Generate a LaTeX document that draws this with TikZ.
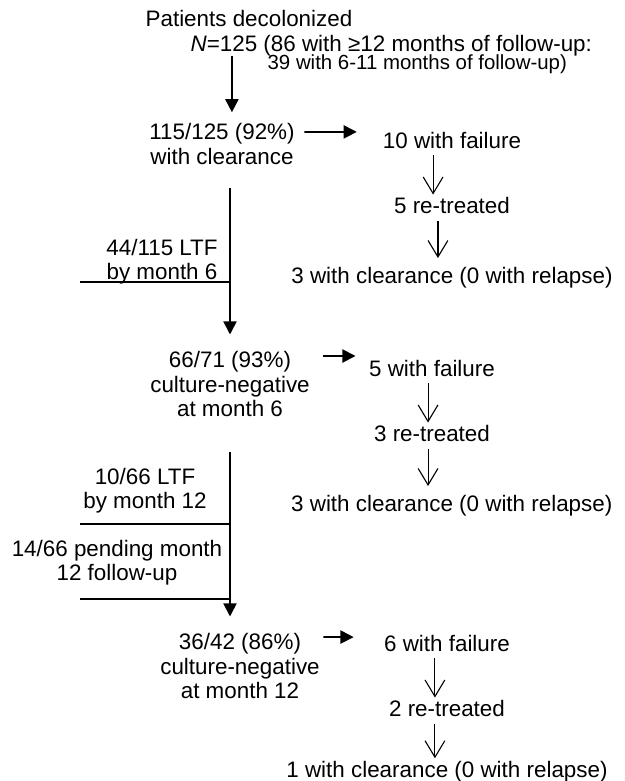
\documentclass[tikz,border=0pt]{standalone}
\usepackage{fontspec}
\setmainfont{Liberation Sans}
\usetikzlibrary{arrows.meta, positioning}
\tikzset{
    stage/.style={
        align=center, inner sep=1pt, font=\fontsize{10.2pt}{11pt}\selectfont
    },
    outcome/.style={
        inner sep=1pt, text height=7.6pt, text depth=2pt,
        font=\fontsize{10.2pt}{11pt}\selectfont
    },
    note/.style={
        inner sep=1pt, text height=7pt, text depth=1.8pt,
        font=\fontsize{9.3pt}{10pt}\selectfont
    },
    flow/.style={
        -{Triangle[length=6pt, width=6pt]}, line width=0.8pt
    },
    retreat/.style={
        -{Straight Barb[length=7.5pt, width=9pt]}, line width=0.5pt
    },
    cutoff/.style={
        line width=0.8pt
    }
}

\begin{document}
\begin{tikzpicture}[x=0.016cm, y=-0.016cm, node distance=0.63cm]

    \useasboundingbox (0,0) rectangle (624,781);
    \coordinate (spine) at (230,0);

    % entry
    \node[outcome, anchor=west] (pat)    at (143,20) {Patients decolonized};
    \node[outcome, anchor=west] (ncount) at (188,45) {\textit{N}=125 (86 with ≥12 months of follow-up:};
    \node[note, anchor=west]    (fu39)   at (265,64) {39 with 6-11 months of follow-up)};

    % main stages
    \node[stage] (clear115) at (222,144) {115/125 (92\%)\\with clearance};
    \node[stage] (cn6)      at (230,384) {66/71 (93\%)\\culture-negative\\at month 6};
    \node[stage] (cn12)     at (240,666) {36/42 (86\%)\\culture-negative\\at month 12};

    % losses to follow-up
    \node[stage] (ltf6)   at (162,262) {44/115 LTF\\by month 6};
    \node[stage] (ltf12)  at (145,491) {10/66 LTF\\by month 12};
    \node[stage] (pend12) at (117,563) {14/66 pending month\\12 follow-up};
    \coordinate (cut6)    at (80,282);
    \coordinate (cut12)   at (80,524);
    \coordinate (cutpend) at (80,599);

    % failures
    \node[outcome]                                (fail1) at (452,142) {10 with failure};
    \node[outcome, below=of fail1]                (retr1) {5 re-treated};
    \node[outcome, below=0.7cm of retr1]          (clr1)  {3 with clearance (0 with relapse)};

    \node[outcome]                                (fail2) at (432,370) {5 with failure};
    \node[outcome, below=of fail2]                (retr2) {3 re-treated};
    \node[outcome, below=0.7cm of retr2, xshift=9pt] (clr2) {3 with clearance (0 with relapse)};

    \node[outcome]                                (fail3) at (447,645) {6 with failure};
    \node[outcome, below=of fail3]                (retr3) {2 re-treated};
    \node[outcome, below=0.55cm of retr3]         (clr3)  {1 with clearance (0 with relapse)};

    % main flow
    \coordinate (entry) at ([xshift=20pt]ncount.south west);
    \draw[flow, shorten <=-1pt, shorten >=4pt] (entry) -- (entry |- clear115.north);
    \draw[flow, shorten <=9.7pt, shorten >=6.6pt] (clear115.south -| spine) -- (cn6.north -| spine);
    \draw[flow, shorten <=14.8pt, shorten >=6.6pt] (cn6.south -| spine) -- (cn12.north -| spine);

    \draw[cutoff] (cut6) -- (cut6 -| spine);
    \draw[cutoff] (cut12) -- (cut12 -| spine);
    \draw[cutoff] (cutpend) -- (cutpend -| spine);

    % side branches
    \draw[flow] ([shift={(3.2pt,5.5pt)}]clear115.east) -- ([shift={(-10.7pt,4.6pt)}]fail1.west);
    \draw[flow] ([shift={(4.9pt,12.7pt)}]cn6.east) -- ([shift={(-5pt,6.4pt)}]fail2.west);
    \draw[flow] ([shift={(0.5pt,13.2pt)}]cn12.east) -- ([shift={(-12.7pt,3.6pt)}]fail3.west);

    \draw[retreat] ([xshift=-8.6pt]fail1.south) -- ([xshift=-8.6pt]retr1.north);
    \draw[retreat, shorten >=3pt] ([xshift=-6.4pt]retr1.south) -- ([xshift=-6.4pt]clr1.north);
    \draw[retreat] ([xshift=-1.8pt]fail2.south) -- ([xshift=-1.8pt]retr2.north);
    \draw[retreat, shorten >=3pt] ([xshift=-1.8pt]retr2.south) -- ([xshift=-10.8pt]clr2.north);
    \draw[retreat] ([xshift=-5.5pt]fail3.south) -- ([xshift=-5.5pt]retr3.north);
    \draw[retreat] ([xshift=-5.5pt]retr3.south) -- ([xshift=-5.5pt]clr3.north);

\end{tikzpicture}
\end{document}
